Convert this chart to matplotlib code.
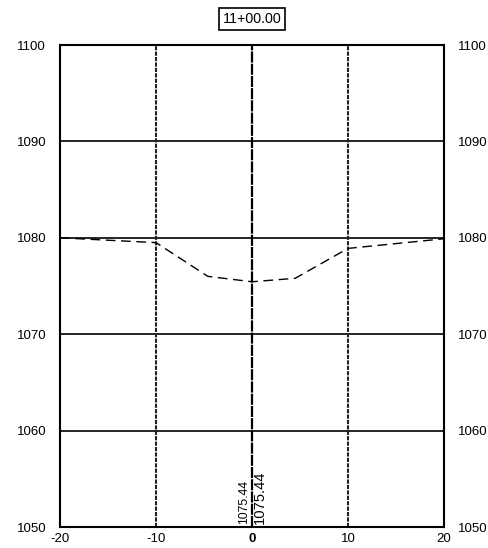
import matplotlib
matplotlib.use("Agg")
import matplotlib.pyplot as plt

offsets = [-20, -10, -4.6, 0, 4.5, 10, 20]
elevations = [1080.0, 1079.5, 1076.0, 1075.44, 1075.8, 1078.9, 1079.9]
xticks = [-20, -10, 0, 10, 20]
yticks = [1050, 1060, 1070, 1080, 1090, 1100]
station = "11+00.00"
center_elev = "1075.44"

plt.rcParams['font.family'] = ['Liberation Sans', 'DejaVu Sans']
fig = plt.figure(figsize=(4.88, 5.48), dpi=100)
ax = fig.add_axes([60/488, 1-527/548, 384/488, 482/548])
ax.set_xlim(-20, 20)
ax.set_ylim(1050, 1100)

for y in yticks[1:-1]:
    ax.axhline(y, color='black', lw=1.2, zorder=1)
for x in [-10, 10]:
    ax.axvline(x, color='#222222', lw=1.5, ls=(0, (2, 0.6)), zorder=1)
ax.axvline(0, color='black', lw=1.6, ls=(0, (5, 0.5)), zorder=1)

ax.plot(offsets, elevations, color='black', lw=1.0, ls=(0, (7, 4)), zorder=3)

ax.set_xticks(xticks)
ax.set_xticklabels([str(t) for t in xticks], fontsize=9.5)
ax.get_xticklabels()[2].set_fontweight('bold')
ax.set_yticks(yticks)
ax.set_yticklabels([str(t) for t in yticks], fontsize=9.5)
ax.tick_params(axis='both', length=0)
ax.tick_params(axis='y', labelright=True, right=False, pad=10)
ax.tick_params(axis='x', pad=4)

for s in ax.spines.values():
    s.set_linewidth(1.5)

ax.text(-0.15, 1050.35, center_elev, rotation=90, fontsize=8.8, ha='right', va='bottom')
ax.text(0.1, 1050.35, center_elev, rotation=90, fontsize=10.6, ha='left', va='bottom')

fig.text(252/488, 1-19/548, station, ha='center', va='center', fontsize=10.3,
         bbox=dict(boxstyle='square,pad=0.25', fc='white', ec='black', lw=1.2))

fig.savefig('out.png', dpi=100)
